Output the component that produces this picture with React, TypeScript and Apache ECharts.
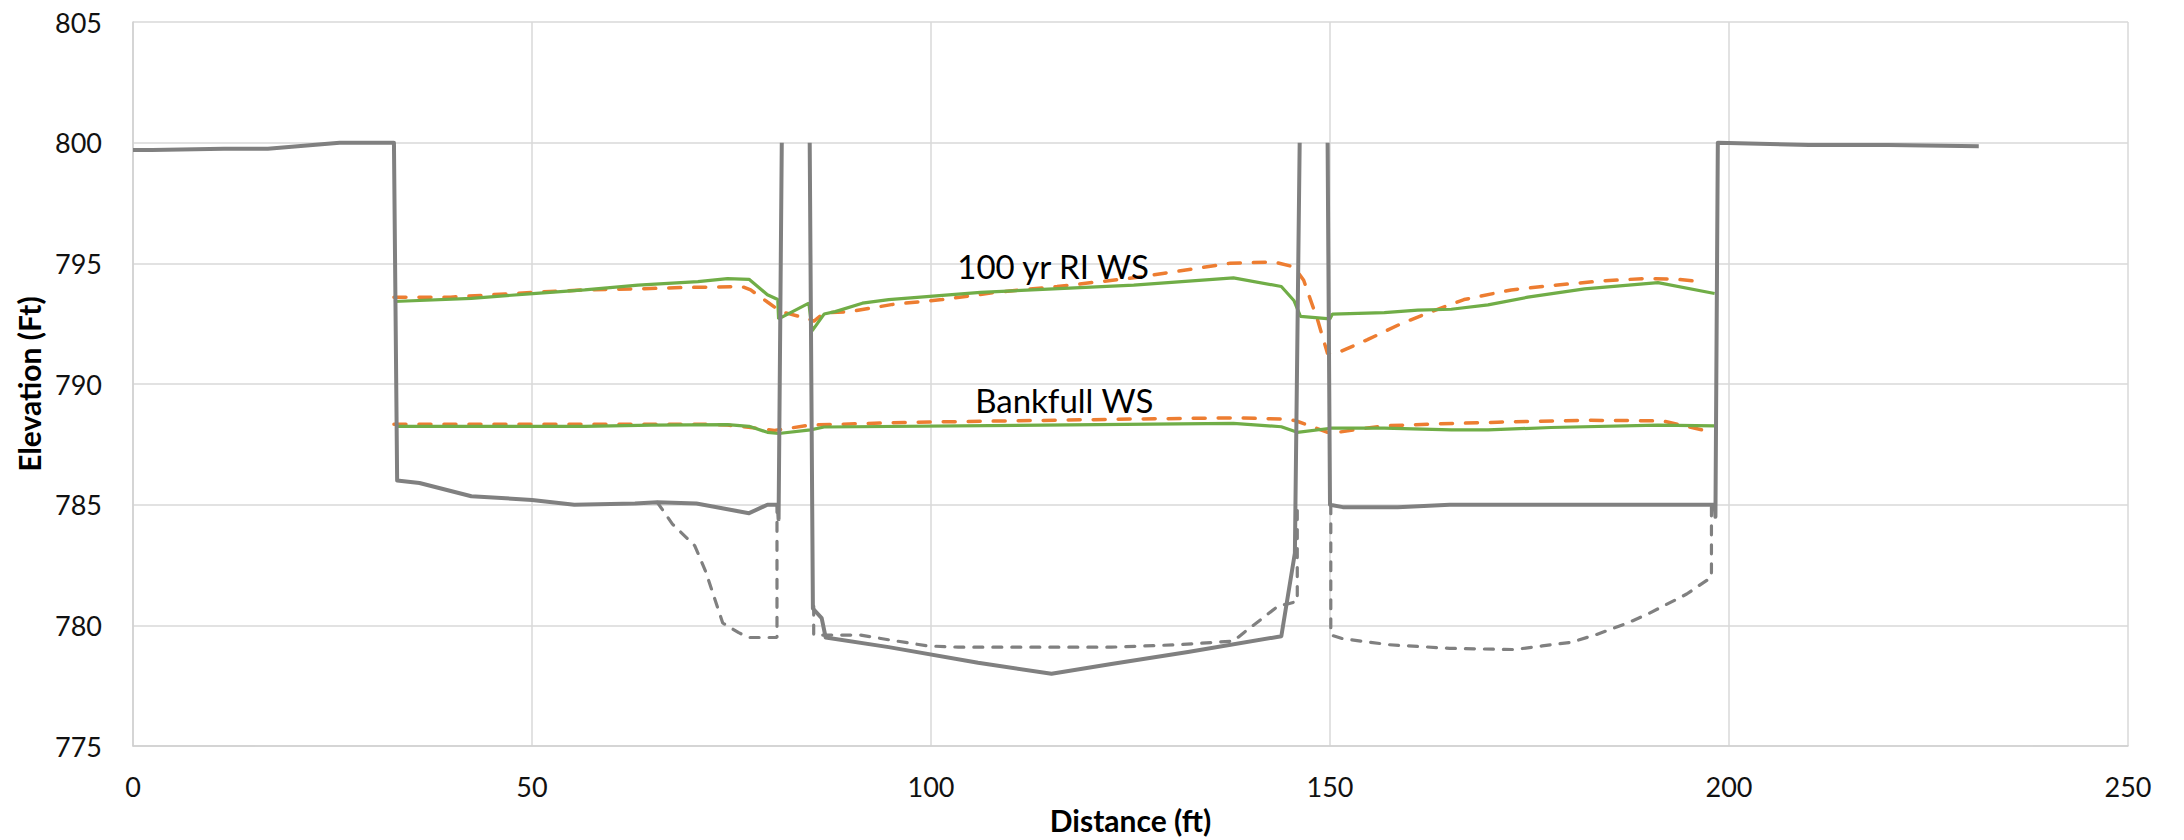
import React, { useEffect, useRef } from "react";
import * as echarts from "echarts";

// Proposed ground (solid gray), three pieces
const groundLeft: number[][] = [
  [0, 799.7], [2.4, 799.7], [11.4, 799.75], [16.9, 799.75], [25.9, 800.0], [32.7, 800.0],
  [33.1, 786.0], [35.9, 785.9], [42.4, 785.35], [50.0, 785.2], [55.3, 785.0], [62.9, 785.05],
  [65.7, 785.1], [70.6, 785.05], [77.2, 784.65], [79.5, 785.0], [80.8, 785.0], [80.9, 784.4], [81.3, 800.0],
];
const groundMid: number[][] = [
  [84.8, 800.0], [85.2, 780.7], [86.3, 780.3], [86.8, 779.5], [94.7, 779.1], [105.9, 778.45],
  [115.1, 778.0], [122.6, 778.4], [132.2, 778.9], [143.9, 779.55], [145.6, 783.0], [146.2, 800.0],
];
const groundRight: number[][] = [
  [149.7, 800.0], [150.0, 785.0], [151.6, 784.9], [158.5, 784.9], [165.0, 785.0], [198.2, 785.0],
  [198.3, 784.5], [198.6, 800.0], [210.0, 799.9], [220.0, 799.9], [231.3, 799.85],
];

// Existing ground (dashed gray), three pieces
const existLeft: number[][] = [
  [65.7, 785.1], [67.6, 784.2], [70.4, 783.3], [71.8, 782.2], [73.9, 780.1], [75.9, 779.7],
  [77.2, 779.5], [80.7, 779.5], [80.7, 785.0],
];
const existMid: number[][] = [
  [85.3, 780.8], [85.3, 779.6], [86.9, 779.6], [91.2, 779.6], [94.8, 779.4], [99.6, 779.15],
  [103.4, 779.1], [122.6, 779.1], [130.9, 779.2], [137.9, 779.35], [139.2, 779.7], [143.5, 780.8],
  [144.8, 780.9], [145.9, 781.0], [145.9, 785.0],
];
const existRight: number[][] = [
  [150.1, 785.0], [150.1, 779.6], [151.6, 779.45], [157.4, 779.2], [165.0, 779.05], [173.1, 779.0],
  [176.6, 779.15], [180.2, 779.3], [183.2, 779.6], [187.3, 780.1], [190.0, 780.5], [194.7, 781.3],
  [197.8, 782.0], [197.8, 785.0],
];

// 100 yr RI water surface
const ws100Proposed: number[][] = [
  [32.7, 793.42], [42.4, 793.55], [50.1, 793.75], [56.6, 793.9], [63.3, 794.1], [70.8, 794.24],
  [74.5, 794.37], [77.2, 794.34], [79.5, 793.7], [80.8, 793.5], [80.9, 792.7], [84.7, 793.35],
  [85.1, 792.2], [86.6, 792.9], [88.0, 793.0], [91.4, 793.35], [94.7, 793.5], [106.2, 793.8],
  [125.4, 794.1], [137.9, 794.4], [143.9, 794.04], [145.5, 793.45], [146.3, 792.8], [150.0, 792.7],
  [150.3, 792.9], [156.8, 792.96], [161.0, 793.06], [165.2, 793.1], [169.8, 793.28], [174.8, 793.6],
  [181.9, 793.94], [191.1, 794.2], [198.2, 793.75],
];
const ws100Existing: number[][] = [
  [32.7, 793.6], [39.8, 793.6], [50.1, 793.8], [56.6, 793.9], [64.1, 793.95], [69.1, 794.0],
  [76.3, 794.04], [77.4, 793.9], [79.5, 793.4], [81.2, 793.0], [84.7, 792.7], [85.3, 792.6],
  [86.6, 792.95], [89.9, 793.0], [95.2, 793.3], [101.4, 793.5], [108.1, 793.8], [115.8, 794.04],
  [125.4, 794.4], [137.4, 795.0], [143.0, 795.06], [145.5, 794.85], [146.7, 794.3], [148.5, 792.6],
  [149.7, 791.25], [151.0, 791.3], [154.7, 791.84], [158.9, 792.5], [162.7, 793.0], [166.8, 793.5],
  [172.7, 793.9], [177.7, 794.08], [184.0, 794.27], [189.4, 794.37], [193.6, 794.34], [196.6, 794.24],
];

// Bankfull water surface
const wsBankProposed: number[][] = [
  [33.1, 788.25], [50.1, 788.25], [56.6, 788.25], [65.0, 788.3], [74.5, 788.32], [77.2, 788.25],
  [79.5, 788.0], [80.9, 787.95], [84.9, 788.1], [86.6, 788.22], [137.9, 788.37], [143.9, 788.23],
  [145.9, 788.0], [150.1, 788.17], [156.8, 788.17], [165.2, 788.1], [169.8, 788.1], [177.7, 788.2],
  [191.1, 788.3], [198.2, 788.27],
];
const wsBankExisting: number[][] = [
  [32.7, 788.33], [50.0, 788.33], [72.0, 788.33], [74.5, 788.3], [77.4, 788.2], [80.4, 788.08],
  [84.9, 788.3], [96.6, 788.41], [111.0, 788.48], [125.4, 788.55], [137.9, 788.6], [144.3, 788.55],
  [145.7, 788.48], [149.7, 788.0], [151.0, 788.0], [153.9, 788.15], [156.8, 788.27], [163.5, 788.35],
  [171.0, 788.42], [181.9, 788.5], [190.2, 788.48], [192.0, 788.45], [196.6, 788.1],
];

const annotations = [
  { text: "100 yr RI WS", x: 115.3, y: 794.9 },
  { text: "Bankfull WS", x: 116.7, y: 789.35 },
];

const X_MIN = 0, X_MAX = 250, X_STEP = 50;
const Y_MIN = 775, Y_MAX = 805, Y_STEP = 5;

const FONT = "Lato, 'Open Sans', sans-serif";
const GRAY = "#808080";
const GREEN = "#70ad47";
const ORANGE = "#ed7d31";

export default function App() {
  const ref = useRef<HTMLDivElement>(null);
  useEffect(() => {
    document.body.style.margin = "0";
    if (!ref.current) return;
    const chart = echarts.init(ref.current, undefined, { renderer: "svg" });

    const solidGround = (data: number[][]) => ({
      type: "line", data, symbol: "none", z: 5,
      lineStyle: { color: GRAY, width: 4, join: "round" },
    });
    const dashedGround = (data: number[][]) => ({
      type: "line", data, symbol: "none", z: 4,
      lineStyle: { color: GRAY, width: 3.2, type: [9, 10], cap: "round" },
    });

    chart.setOption({
      animation: false,
      backgroundColor: "#ffffff",
      grid: { left: 133, right: 56, top: 22, bottom: 59, containLabel: false },
      xAxis: {
        type: "value", min: X_MIN, max: X_MAX, interval: X_STEP,
        name: "Distance (ft)", nameLocation: "middle", nameGap: 31,
        nameTextStyle: { fontFamily: FONT, fontSize: 30, fontWeight: "bold", color: "#000" },
        axisLine: { show: true, lineStyle: { color: "#d0d0d0", width: 1.5 } },
        axisTick: { show: false },
        axisLabel: { fontFamily: FONT, fontSize: 27, color: "#111", margin: 27 },
        splitLine: { show: true, lineStyle: { color: "#d9d9d9", width: 1.5 } },
      },
      yAxis: {
        type: "value", min: Y_MIN, max: Y_MAX, interval: Y_STEP,
        name: "Elevation (Ft)", nameLocation: "middle", nameGap: 88, nameRotate: 90,
        nameTextStyle: { fontFamily: FONT, fontSize: 30, fontWeight: "bold", color: "#000" },
        axisLine: { show: true, lineStyle: { color: "#d0d0d0", width: 1.5 } },
        axisTick: { show: false },
        axisLabel: { fontFamily: FONT, fontSize: 27, color: "#111", margin: 31 },
        splitLine: { show: true, lineStyle: { color: "#d9d9d9", width: 1.5 } },
      },
      series: [
        {
          type: "line", data: ws100Existing, symbol: "none", z: 2,
          lineStyle: { color: ORANGE, width: 3.5, type: [12, 13], cap: "round" },
        },
        {
          type: "line", data: wsBankExisting, symbol: "none", z: 2,
          lineStyle: { color: ORANGE, width: 3.5, type: [12, 13], cap: "round" },
        },
        {
          type: "line", data: ws100Proposed, symbol: "none", z: 3,
          lineStyle: { color: GREEN, width: 3.2 },
          markPoint: {
            silent: true,
            symbol: "rect",
            symbolSize: 1,
            itemStyle: { color: "rgba(0,0,0,0)" },
            data: annotations.map((a) => ({
              coord: [a.x, a.y],
              label: {
                show: true, position: "inside", formatter: a.text,
                fontFamily: FONT, fontSize: 33, color: "#000",
              },
            })),
          },
        },
        {
          type: "line", data: wsBankProposed, symbol: "none", z: 3,
          lineStyle: { color: GREEN, width: 3.2 },
        },
        dashedGround(existLeft),
        dashedGround(existMid),
        dashedGround(existRight),
        solidGround(groundLeft),
        solidGround(groundMid),
        solidGround(groundRight),
      ],
    });
    return () => chart.dispose();
  }, []);
  return <div ref={ref} style={{ width: 2184, height: 840 }} />;
}
